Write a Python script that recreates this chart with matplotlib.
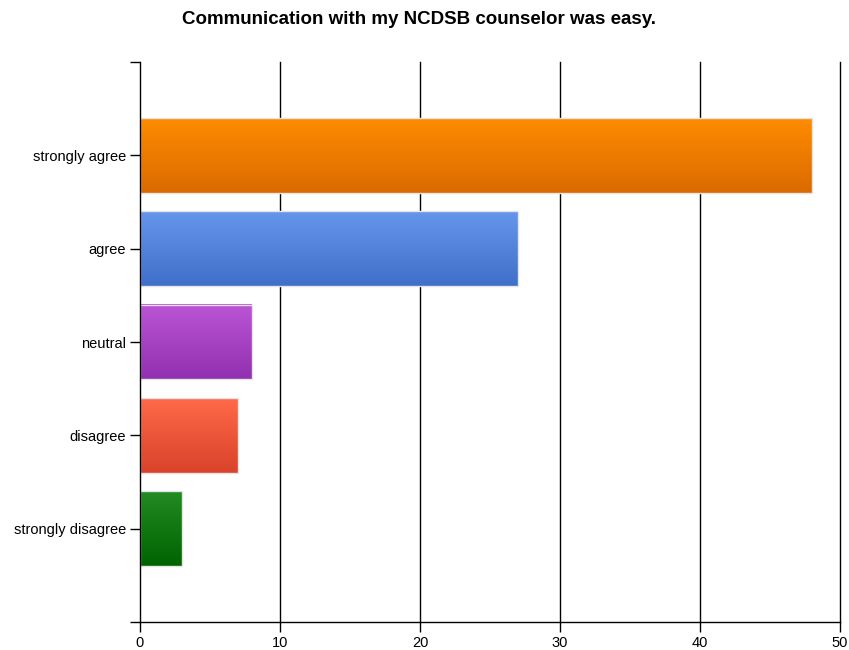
import numpy as np
import matplotlib.pyplot as plt
from matplotlib.colors import LinearSegmentedColormap

# survey responses, listed bottom to top
CATEGORIES = ["strongly disagree", "disagree", "neutral", "agree", "strongly agree"]
COUNTS = [3, 7, 8, 27, 48]
TOP_COLORS = ["#228B22", "#FF6A4A", "#BB55D6", "#6696EC", "#FF8C00"]
BOTTOM_COLORS = ["#006400", "#D8432A", "#9130B0", "#3F6FC8", "#DA6A00"]
XTICKS = [0, 10, 20, 30, 40, 50]
TITLE = "Communication with my NCDSB counselor was easy."

plt.rcParams["font.family"] = ["Liberation Sans", "DejaVu Sans"]

fig = plt.figure(figsize=(8.49, 6.5), dpi=100)
ax = fig.add_axes([140 / 849, 28 / 650, 700 / 849, 560 / 650])

positions = np.arange(1, len(CATEGORIES) + 1)
height = 0.8
grad = np.linspace(0, 1, 256).reshape(-1, 1)

# each bar is a vertical gradient image with a thin light outline
for y, val, c_top, c_bot in zip(positions, COUNTS, TOP_COLORS, BOTTOM_COLORS):
    cmap = LinearSegmentedColormap.from_list("g", [c_top, c_bot])
    ax.imshow(grad, cmap=cmap, aspect="auto", interpolation="bicubic",
              extent=(0, val, y - height / 2, y + height / 2), zorder=2)
    ax.add_patch(plt.Rectangle((0, y - height / 2), val, height, fill=False,
                               edgecolor="#e4e4e4", lw=1.0, zorder=3))

ax.set_xlim(0, 50)
ax.set_ylim(0, 6)
ax.set_xticks(XTICKS)
ax.set_xticklabels([str(t) for t in XTICKS], fontsize=10.5)
ax.set_yticks([0, *positions, 6])
ax.set_yticklabels(["", *CATEGORIES, ""], fontsize=10.5)
ax.tick_params(axis="both", length=7, width=1, color="black", pad=3)

for x in XTICKS[1:]:
    ax.axvline(x, color="black", lw=1, zorder=1, clip_on=False)

for side in ["top", "right"]:
    ax.spines[side].set_visible(False)
for side in ["left", "bottom"]:
    ax.spines[side].set_linewidth(1)
    ax.spines[side].set_zorder(4)

fig.text(419 / 849, 1 - 19 / 650, TITLE, ha="center", va="center",
         fontsize=13.5, fontweight="bold")

fig.savefig("out.png", dpi=100)
